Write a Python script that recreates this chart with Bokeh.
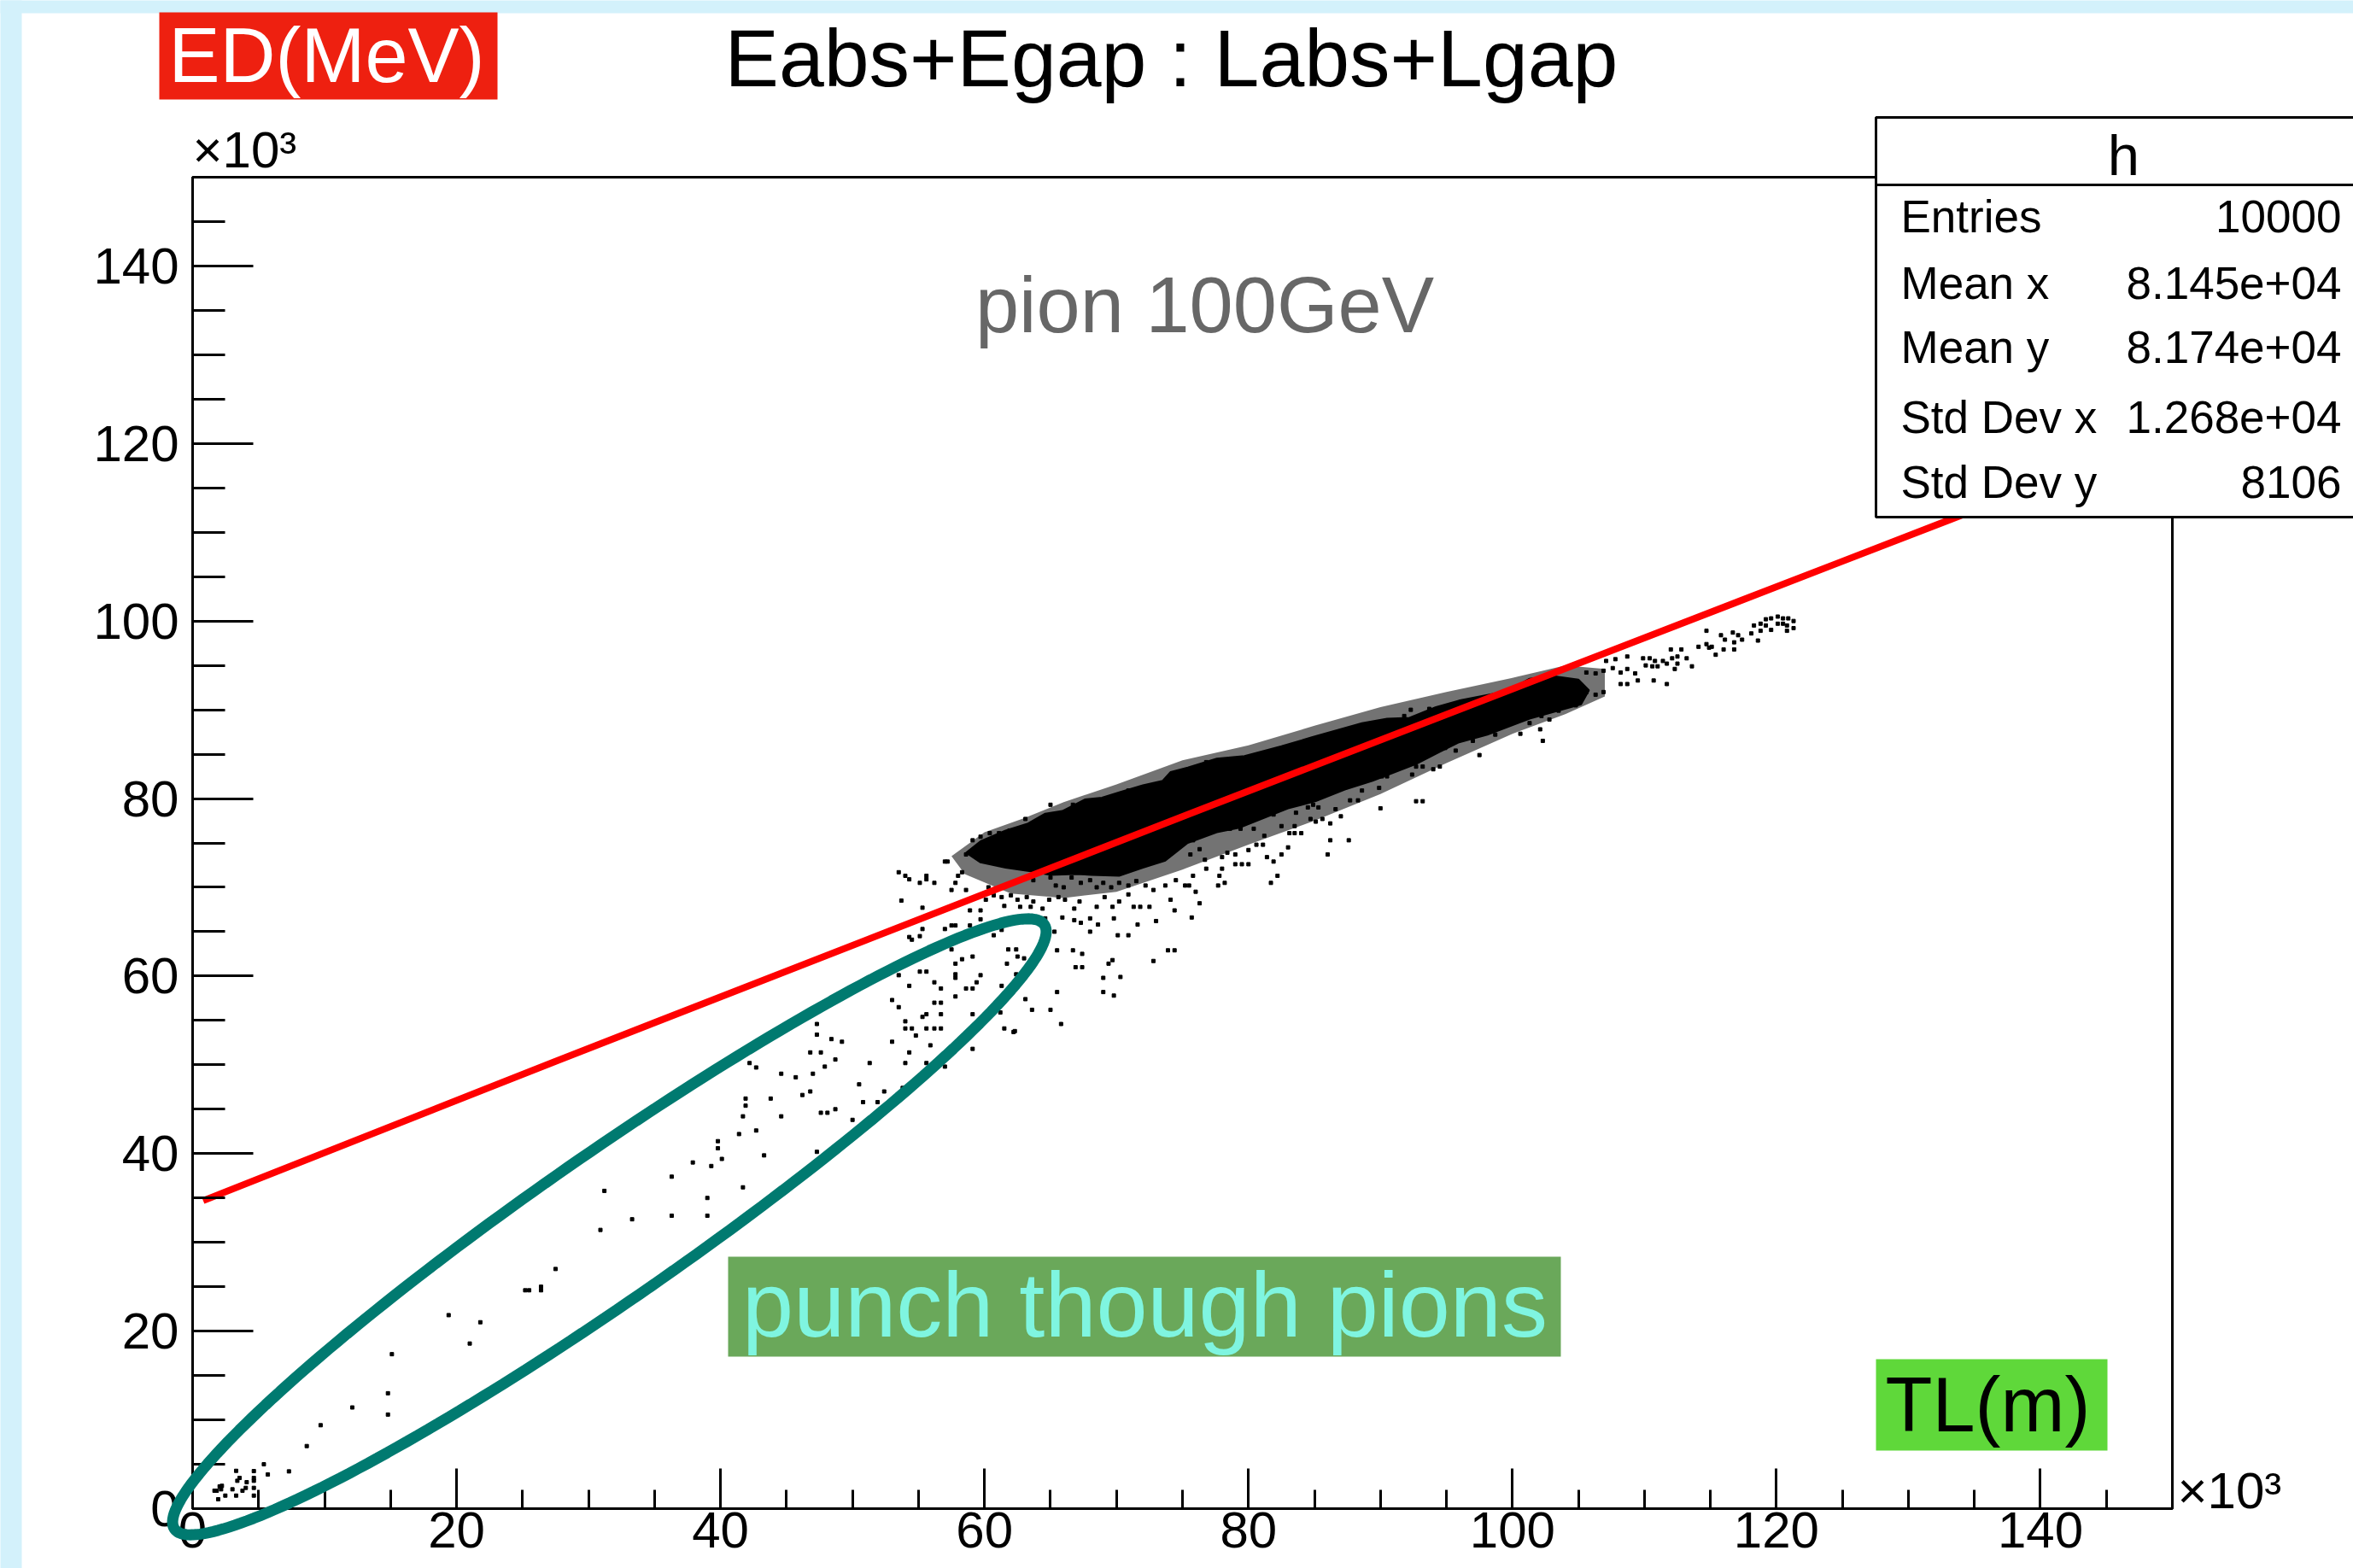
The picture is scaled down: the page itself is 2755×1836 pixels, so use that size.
import math
from bokeh.plotting import figure
from bokeh.models import Range1d, FixedTicker, Label, BoxAnnotation, PolyAnnotation, LinearAxis
from bokeh.embed import file_html
from bokeh.resources import INLINE

# ---------------- data (units: x10^3) ----------------
x_ticks = [0, 20, 40, 60, 80, 100, 120, 140]
y_ticks = [0, 20, 40, 60, 80, 100, 120, 140]
minor_ticks = [0, 5, 10, 15, 20, 25, 30, 35, 40, 45, 50, 55, 60, 65, 70, 75, 80, 85, 90,
               95, 100, 105, 110, 115, 120, 125, 130, 135, 140, 145, 150]

# red reference line (Eabs+Egap vs Labs+Lgap)
red_x = [0.8, 27.5, 59.9, 75.4, 124.6, 150.0]
red_y = [34.7, 50.4, 69.2, 78.2, 106.5, 121.1]

# dense core of the event cloud (outline)
core_x = [58.6, 59.7, 61.6, 63.3, 64.6, 65.9, 67.6, 68.9, 70.2, 72.0, 73.5, 74.1, 75.4, 77.6,
          79.7, 82.5, 84.8, 88.6, 90.5, 92.2, 94.2, 96.1, 99.6, 101.3, 103.0, 105.0, 105.8,
          105.2, 103.5, 101.3, 98.1, 95.9, 94.4, 92.7, 89.4, 87.3, 85.1, 83.0, 80.8, 79.3,
          77.6, 75.4, 73.7, 72.0, 70.2, 68.1, 66.8, 65.0, 63.5, 61.6, 59.7]
core_y = [73.9, 75.2, 76.4, 77.2, 78.3, 78.6, 79.9, 80.1, 80.7, 81.5, 82.0, 83.0, 83.5, 84.5,
          84.8, 85.9, 86.9, 88.5, 89.0, 89.1, 90.3, 91.1, 92.1, 93.5, 93.8, 93.4, 92.2,
          90.6, 89.9, 89.0, 87.2, 86.3, 85.2, 83.9, 82.0, 81.0, 79.7, 78.9, 77.6, 76.7,
          76.2, 75.0, 73.0, 72.2, 71.3, 71.4, 71.5, 71.4, 71.8, 72.2, 72.8]

# outline of the crowded (but not solid) zone of events around the core
crowd_x = [57.5, 60.0, 63.0, 66.0, 70.0, 75.0, 80.0, 85.0, 90.0, 95.0, 100.0, 104.0, 107.0,
           107.0, 104.0, 100.0, 95.0, 90.0, 85.0, 80.0, 75.0, 70.0, 66.0, 62.0, 58.5]
crowd_y = [73.5, 76.2, 77.8, 79.6, 81.6, 84.3, 86.0, 88.2, 90.3, 92.0, 93.6, 95.0, 94.6,
           91.5, 89.5, 87.3, 84.0, 80.5, 77.5, 74.8, 72.0, 69.5, 68.8, 69.3, 71.5]

# individual events (punch-through region and halo around the core)
punch_x = [4.64, 4.64, 4.64, 4.64, 4.64, 4.10, 3.56, 3.30, 3.39, 3.78, 4.03, 3.30, 3.02, 2.48,
           1.94, 1.83, 2.05, 2.22, 2.16, 1.66, 5.4, 5.7, 7.3, 8.65, 9.7, 12.1, 14.8, 14.8, 15.1,
           19.4, 21.8, 21.0, 25.2, 25.5, 26.4, 26.4, 27.5,
           30.9, 31.2, 33.3, 36.3, 36.3, 37.9, 39.0, 39.0, 39.3, 39.8, 39.8, 40.1, 41.7, 41.4,
           41.7, 41.9, 41.9, 42.7, 43.3, 42.2, 42.7, 43.8, 44.6, 44.6, 45.7, 46.2, 46.8, 46.8,
           47.0, 47.3, 47.3, 47.3, 47.6, 47.6, 47.9, 48.1, 48.4, 48.7, 48.7, 49.2, 50.0, 50.5,
           50.8, 51.3, 51.9, 52.4, 53.0, 53.0, 53.5, 53.5, 53.8, 54.0, 54.0, 54.0, 54.3, 54.3,
           54.5, 54.8, 55.1, 55.3, 55.6, 55.6, 55.6, 55.6, 55.9, 56.2, 56.2, 56.2, 56.7, 56.7,
           56.7, 56.7, 57.0, 57.5, 57.8, 57.8, 57.8, 57.8, 58.3, 58.6, 59.1, 59.1, 59.1, 59.1,
           59.4, 59.7]
punch_y = [4.23, 3.46, 3.14, 2.34, 1.47, 2.98, 3.46, 4.26, 3.14, 2.02, 2.34, 1.47, 2.18, 1.47,
           1.06, 2.02, 2.50, 2.57, 2.18, 2.02, 5.0, 3.85, 4.2, 7.05, 9.4, 11.4, 10.6, 13.0, 17.4,
           21.8, 21.0, 18.6, 24.6, 24.6, 24.6, 25.0, 27.0,
           31.4, 35.8, 32.6, 37.4, 33.0, 39.0, 35.0, 33.0, 38.6, 41.4, 40.6, 39.4, 36.2, 42.2,
           44.2, 45.4, 46.2, 42.6, 39.8, 50.2, 49.7, 46.2, 49.0, 44.2, 48.6, 46.6, 47.0, 51.4,
           49.0, 54.6, 53.4, 40.2, 51.4, 44.6, 49.8, 44.6, 52.9, 45.0, 50.6, 52.6, 43.8, 47.8,
           45.8, 50.2, 45.8, 47.0, 52.6, 57.3, 56.5, 60.1, 47.4, 50.2, 54.9, 54.1, 58.9, 51.4,
           54.1, 53.3, 60.5, 55.4, 55.7, 60.5, 54.1, 50.2, 52.2, 59.3, 57.0, 54.1, 58.6, 57.0,
           55.7, 54.1, 49.8, 63.0, 59.8, 60.2, 57.7, 61.4, 61.9, 58.6, 58.6, 55.7, 51.8, 62.2,
           59.3, 60.1]

halo_x = [53.7, 55.3, 53.5, 54.0, 54.3, 55.1, 55.6, 55.6, 56.2, 57.0, 57.2, 57.5, 57.8, 58.0,
          58.3, 58.6, 59.1, 59.7, 58.6, 59.1, 57.0, 55.3, 54.3, 54.5, 55.1, 57.5, 57.8, 58.9,
          58.9, 59.7, 59.7,
          63.3, 63.7, 65.0, 65.4, 66.0, 66.6, 67.3, 68.0, 68.5, 69.0, 69.6, 70.2, 70.9, 71.5,
          72.2, 72.8, 73.7, 74.5, 75.2, 62.0, 62.5, 63.2, 63.7, 64.4, 64.9, 65.6, 66.1, 66.8,
          67.2, 68.5, 69.1, 69.7, 70.2, 70.9, 71.3, 71.8, 72.5, 74.1, 74.4, 62.7, 63.5, 64.6,
          65.3, 65.9, 66.8, 67.3, 68.0, 68.6, 68.0, 69.8, 70.1, 70.9, 71.6, 73.0, 65.5, 66.7,
          67.4, 66.9, 67.4, 69.4, 69.7, 70.3, 69.0, 73.9, 74.4, 72.8, 65.5, 63.1, 63.6, 65.0,
          69.0, 69.8, 65.8, 62.3, 61.5, 60.7, 61.3, 61.8, 62.4, 62.5, 63.0, 61.7, 62.4, 61.3,
          61.2, 62.2, 60.3, 60.7, 61.3, 61.5, 60.1, 65.0, 66.7, 70.9, 60.4, 61.1, 61.9, 63.1,
          63.9,
          75.8, 76.3, 75.6, 76.7, 76.8, 75.8, 77.8, 75.5, 76.0, 77.7, 78.2, 76.3, 75.7, 78.0,
          78.0, 78.4, 79.0, 79.0, 79.5, 80.0, 80.0, 80.6, 81.1, 81.4, 81.9, 82.2, 81.7, 82.5,
          83.0, 83.1, 83.5, 84.0, 86.2, 87.6, 86.0, 87.0, 86.2, 85.6, 85.1, 84.7, 90.0, 89.9,
          88.6, 88.3, 87.7, 92.7, 93.2, 90.5, 90.1, 92.4, 92.7, 94.0, 94.5, 93.2, 97.5, 97.0,
          98.7, 100.6, 95.7, 94.9, 97.8, 78.6, 79.4, 80.4, 79.9, 81.2, 81.9, 82.5, 83.5, 84.5,
          84.9, 85.3, 83.6, 86.6, 76.8, 81.2, 81.9, 91.8, 92.3, 93.7, 96.1,
          105.6, 106.3, 106.9, 107.6, 108.2, 108.7, 109.3, 109.5, 108.2, 108.7, 106.9, 106.3,
          105.6, 107.1, 107.8, 108.7, 109.9, 110.4, 110.8, 110.6, 111.0, 110.1, 111.4, 112.1,
          112.5, 112.8, 113.2, 112.0, 111.7, 112.3, 112.5, 113.6, 111.7, 110.7, 114.1, 114.7,
          114.9, 114.7, 115.1, 115.4, 115.8, 116.1, 116.7, 117.1, 117.4, 116.8, 116.0, 116.8,
          118.1, 118.3, 118.8, 119.2, 119.6, 120.1, 120.5, 120.9, 121.3, 121.3, 120.8, 119.6,
          118.6, 118.8, 120.1, 120.5, 120.8, 119.2, 104.8, 103.5, 102.8, 102.2, 101.5, 101.3,
          102.1, 102.3]
halo_y = [68.5, 67.7, 71.7, 71.3, 70.9, 70.5, 71.3, 70.9, 70.5, 72.9, 72.9, 69.7, 70.5, 71.3,
          71.7, 69.7, 75.3, 75.7, 73.7, 73.7, 65.3, 65.3, 64.4, 64.1, 64.5, 65.7, 65.7, 65.7,
          67.4, 67.4, 66.4,
          71.1, 70.8, 71.1, 70.2, 70.0, 71.1, 70.5, 70.8, 70.0, 70.5, 70.0, 70.5, 70.2, 70.7,
          70.2, 69.7, 70.2, 70.8, 70.2, 69.1, 68.6, 68.9, 68.4, 67.6, 68.6, 68.9, 68.6, 67.6,
          68.4, 67.8, 68.9, 67.8, 68.4, 69.2, 67.8, 67.8, 67.8, 68.6, 67.4, 67.8, 67.8, 66.5,
          65.0, 66.6, 66.3, 66.0, 66.5, 65.8, 65.0, 66.5, 64.6, 64.6, 65.8, 66.2, 62.9, 62.9,
          62.5, 61.0, 61.0, 61.4, 61.8, 59.9, 59.8, 62.9, 62.9, 61.7, 58.2, 57.4, 56.2, 56.2,
          58.2, 57.8, 54.6, 53.8, 54.1, 64.6, 65.2, 63.0, 63.0, 62.2, 62.0, 61.4, 60.2, 58.9,
          55.9, 53.7, 70.0, 69.1, 68.9, 67.9, 68.6, 79.3, 79.3, 80.9, 76.1, 76.1, 76.4, 77.7,
          76.8,
          75.3, 74.3, 73.7, 73.1, 72.1, 71.3, 71.3, 70.2, 69.5, 70.2, 70.5, 68.2, 66.6, 73.4,
          72.1, 73.9, 73.7, 72.6, 72.6, 72.6, 74.2, 74.8, 74.8, 73.4, 72.9, 71.3, 70.5, 73.7,
          74.5, 76.1, 76.1, 76.1, 75.3, 75.3, 73.7, 78.0, 77.2, 77.7, 77.4, 77.7, 78.9, 81.2,
          80.9, 79.8, 79.8, 79.7, 79.7, 82.5, 82.5, 82.7, 83.6, 83.3, 83.6, 83.6, 84.9, 86.5,
          87.2, 87.3, 85.4, 85.7, 87.5, 76.6, 76.6, 76.6, 77.4, 75.8, 78.2, 76.9, 76.9, 79.0,
          79.3, 79.0, 78.4, 78.8, 84.1, 84.9, 85.3, 89.3, 90.0, 90.1, 90.9,
          94.2, 94.1, 94.4, 94.7, 94.2, 94.6, 94.1, 93.3, 92.9, 92.9, 92.0, 91.7,
          92.0, 95.5, 95.7, 96.0, 95.8, 95.8, 95.5, 94.9, 94.9, 95.0, 95.5, 95.8,
          96.0, 96.8, 95.8, 96.8, 95.2, 94.6, 95.2, 94.9, 92.9, 93.3, 97.1, 97.4,
          97.0, 98.9, 97.1, 96.2, 98.4, 97.9, 98.7, 98.4, 97.9, 96.8, 96.8, 97.6,
          98.6, 99.5, 99.7, 99.5, 100.3, 100.5, 100.3, 100.3, 100.0, 99.2, 99.5, 99.0,
          97.8, 98.9, 99.7, 99.7, 98.9, 100.2, 90.5, 89.9, 88.9, 89.3, 89.3, 88.5,
          87.8, 86.5]

stat_names = ["Entries", "Mean x", "Mean y", "Std Dev x", "Std Dev y"]
stat_values = ["10000", "8.145e+04", "8.174e+04", "1.268e+04", "8106"]

# ---------------- layout (pixels of the 2755 x 1836 canvas) ----------------
W, H = 2755, 1836
FL, FR, FT, FB = 225, 2543, 207, 1766      # plot box in canvas pixels
XMAX, YMAX = 150.0, 150.0


def dx(px):
    return (px - FL) / (FR - FL) * XMAX


def dy(py):
    return (FB - py) / (FB - FT) * YMAX


FONT = "Liberation Sans"
BASE_SHIFT = 0.36   # compensation of the alphabetic baseline (fraction of font size)

# the frame covers the whole canvas; axes are pinned at x=0 / y=0
p = figure(width=W, height=H, x_range=Range1d(dx(0), dx(W)), y_range=Range1d(dy(H), dy(0)),
           output_backend="svg", toolbar_location=None,
           x_axis_location=None, y_axis_location=None,
           min_border=0, min_border_left=0, min_border_right=0,
           min_border_top=0, min_border_bottom=0)
p.background_fill_color = "white"
p.border_fill_color = "white"
p.outline_line_color = None
p.xgrid.visible = False
p.ygrid.visible = False

xaxis = LinearAxis(fixed_location=0, bounds=(0, XMAX))
yaxis = LinearAxis(fixed_location=0, bounds=(0, YMAX))
for ax, tin, mtin, ticks, standoff in ((xaxis, 47, 22, x_ticks, 4),
                                       (yaxis, 71, 38, y_ticks, 16)):
    ax.ticker = FixedTicker(ticks=ticks, minor_ticks=minor_ticks)
    ax.major_tick_in = tin
    ax.major_tick_out = 0
    ax.minor_tick_in = mtin
    ax.minor_tick_out = 0
    ax.axis_line_width = 3
    ax.major_tick_line_width = 3
    ax.minor_tick_line_width = 3
    ax.axis_line_color = "black"
    ax.major_tick_line_color = "black"
    ax.minor_tick_line_color = "black"
    ax.major_label_text_font = FONT
    ax.major_label_text_font_size = "60px"
    ax.major_label_text_color = "black"
    ax.major_label_standoff = standoff
p.add_layout(xaxis, "below")
p.add_layout(yaxis, "left")

# background strips of the slide
p.add_layout(BoxAnnotation(left=dx(-60), right=dx(25), bottom=dy(H + 60), top=dy(-60),
                           fill_color="#d3f1fb", fill_alpha=1, line_alpha=0, level="underlay"))
p.add_layout(BoxAnnotation(left=dx(-60), right=dx(W + 60), bottom=dy(15), top=dy(-60),
                           fill_color="#d3f1fb", fill_alpha=1, line_alpha=0, level="underlay"))
# plot box (top / right edges)
p.add_layout(BoxAnnotation(left=0, right=XMAX, bottom=0, top=YMAX, fill_alpha=0,
                           line_color="black", line_alpha=1, line_width=3, level="underlay"))

# events
p.patch(crowd_x, crowd_y, fill_color="black", fill_alpha=0.55, line_alpha=0)
p.patch(core_x, core_y, fill_color="black", line_color="black", line_width=2)
p.scatter(punch_x, punch_y, marker="square", size=4, color="black")
p.scatter(halo_x, halo_y, marker="square", size=4, color="black")

# red line
p.line(red_x, red_y, line_color="#ff0000", line_width=8)

# teal ellipse around punch-through pions (screen geometry)
cx, cy, a, b, th = 713.0, 1436.0, 620.0, 85.0, math.radians(34.8)
ex, ey = [], []
for i in range(240):
    t = 2 * math.pi * i / 240
    sx = cx + a * math.cos(t) * math.cos(th) - b * math.sin(t) * math.sin(th)
    sy = cy - (a * math.cos(t) * math.sin(th) + b * math.sin(t) * math.cos(th))
    ex.append(dx(sx))
    ey.append(dy(sy))
p.add_layout(PolyAnnotation(xs=ex, ys=ey, fill_alpha=0, line_color="#007a70", line_alpha=1,
                            line_width=13))


def label(px, py, text, size, color="black", align="left", font=FONT):
    p.add_layout(Label(x=dx(px), y=dy(py), text=text, text_font=font,
                       text_font_size=f"{size}px", text_align=align,
                       text_baseline="alphabetic", text_color=color,
                       y_offset=BASE_SHIFT * size))


# stats box
box_l, box_r = dx(2196), dx(W + 40)
p.add_layout(BoxAnnotation(left=box_l, right=box_r, top=dy(137), bottom=dy(216),
                           fill_color="white", fill_alpha=1, line_color="black", line_alpha=1,
                           line_width=3))
p.add_layout(BoxAnnotation(left=box_l, right=box_r, top=dy(216), bottom=dy(605),
                           fill_color="white", fill_alpha=1, line_color="black", line_alpha=1,
                           line_width=3))
label(2486, 205, "h", 67, align="center")
row_base = [272, 350, 425, 507, 583]
for name, val, yb in zip(stat_names, stat_values, row_base):
    label(2225, yb, name, 53)
    label(2741, yb, val, 53, align="right")

# title
label(1371, 102, "Eabs+Egap : Labs+Lgap", 95, align="center")

# exponent labels
label(225, 197, "\u00d710\u00b3", 60)
label(2549, 1767, "\u00d710\u00b3", 60)

# annotation text
label(1410, 390, "pion 100GeV", 92, color="#676767", align="center")

# coloured tags
p.add_layout(BoxAnnotation(left=dx(186), right=dx(582), top=dy(14), bottom=dy(116),
                           fill_color="#ee2010", fill_alpha=1, line_alpha=0))
label(382, 97, "ED(MeV)", 90, color="white", align="center")

p.add_layout(BoxAnnotation(left=dx(2196), right=dx(2467), top=dy(1591), bottom=dy(1698),
                           fill_color="#5fd83a", fill_alpha=1, line_alpha=0))
label(2327, 1677, "TL(m)", 90, align="center")

p.add_layout(BoxAnnotation(left=dx(852), right=dx(1827), top=dy(1471), bottom=dy(1588),
                           fill_color="#6aa85a", fill_alpha=1, line_alpha=0))
label(1340, 1566, "punch though pions", 108, color="#7ff5e0", align="center")

open("out.html", "w").write(file_html(p, INLINE))
